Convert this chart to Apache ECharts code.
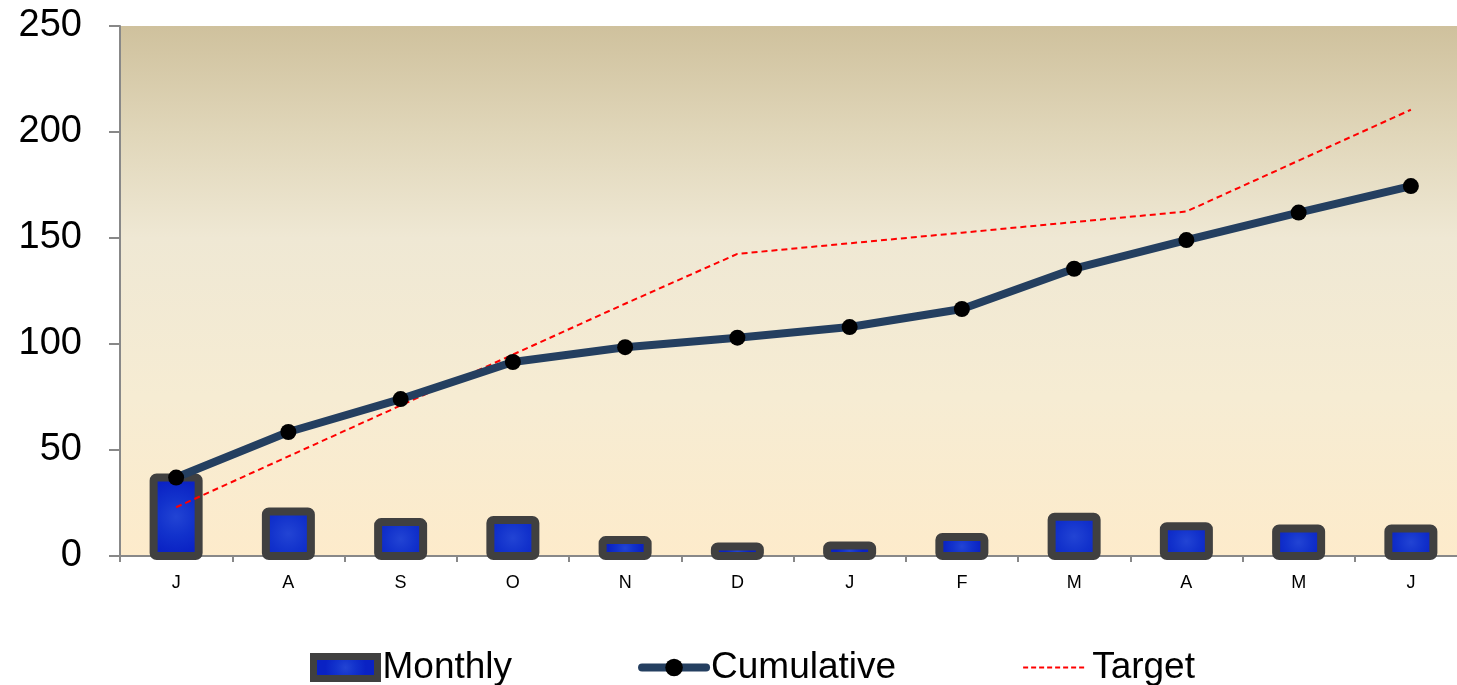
<!DOCTYPE html>
<html>
<head>
<meta charset="utf-8">
<style>
  html, body { margin: 0; padding: 0; background: #ffffff; overflow: hidden; }
  #chart { width: 1467px; height: 685px; }
</style>
<script src="https://cdn.jsdelivr.net/npm/echarts@6/dist/echarts.min.js"></script>
</head>
<body>
<div id="chart"></div>
<script>
// Month labels, July through June
const months = ['J', 'A', 'S', 'O', 'N', 'D', 'J', 'F', 'M', 'A', 'M', 'J'];
// Monthly amount
const monthly = [37, 21, 16, 17, 7.5, 4.5, 5, 9, 18.5, 14, 13, 13];
// Running total
const cumulative = [37, 58.5, 74, 91.5, 98.5, 103, 108, 116.5, 135.5, 149, 162, 174.5];
// Target path
const target = [23, 47, 71, 95, 119, 142.5, 147.5, 152.5, 157.5, 162.5, 186.5, 210.5];
// Value axis ticks
const yTicks = { min: 0, max: 250, step: 50 };

const chart = echarts.init(document.getElementById('chart'), null, { renderer: 'canvas' });

const font = 'Liberation Sans, Arial, sans-serif';
const barBorder = '#404040';
function barFill() {
  return new echarts.graphic.RadialGradient(0.5, 0.5, 0.7, [
    { offset: 0, color: '#2244d4' },
    { offset: 0.5, color: '#1232cc' },
    { offset: 1, color: '#0a22c4' }
  ]);
}

// Bars with a thick framed outline that keeps its full width even on short bars
function renderBar(params, api) {
  const idx = api.value(0);
  const top = api.coord([idx, api.value(1)]);
  const base = api.coord([idx, 0]);
  const w = 45;
  return {
    type: 'rect',
    shape: { x: top[0] - w / 2, y: top[1], width: w, height: base[1] - top[1], r: 3 },
    style: { fill: barFill(), stroke: barBorder, lineWidth: 8 }
  };
}

chart.setOption({
  animation: false,
  textStyle: { fontFamily: font },
  grid: {
    left: 120, top: 26, width: 1347, height: 530,
    show: true,
    borderWidth: 0,
    backgroundColor: {
      type: 'linear', x: 0, y: 0, x2: 0, y2: 1,
      colorStops: [
        { offset: 0, color: '#cfc19d' },
        { offset: 0.2, color: '#e0d6b9' },
        { offset: 0.4, color: '#efe8d4' },
        { offset: 0.7, color: '#f6ecd3' },
        { offset: 1, color: '#fdebcb' }
      ]
    }
  },
  legend: {
    left: 305, top: 644,
    itemWidth: 64, itemHeight: 22, itemGap: 126,
    textStyle: { fontSize: 37, color: '#000', fontFamily: font },
    data: [
      { name: 'Monthly', icon: 'rect', itemStyle: { color: barFill(), borderColor: barBorder, borderWidth: 7 } },
      { name: 'Cumulative', lineStyle: { color: '#243f60', width: 8, cap: 'round' }, itemStyle: { color: '#000' } },
      { name: 'Target', lineStyle: { color: '#ff0000', width: 2, type: [5, 3] }, itemStyle: { opacity: 0 } }
    ]
  },
  xAxis: {
    type: 'category',
    data: months,
    boundaryGap: true,
    axisLine: { show: true, lineStyle: { color: '#888888', width: 2 } },
    axisTick: { show: true, length: 6, lineStyle: { color: '#888888', width: 2 } },
    axisLabel: { fontSize: 18, color: '#000', margin: 18, fontFamily: font },
    splitLine: { show: false }
  },
  yAxis: {
    type: 'value',
    min: yTicks.min, max: yTicks.max, interval: yTicks.step,
    axisLine: { show: true, lineStyle: { color: '#888888', width: 2 } },
    axisTick: { show: true, length: 11, lineStyle: { color: '#888888', width: 2 } },
    axisLabel: { fontSize: 38, color: '#000', margin: 38, fontFamily: font },
    splitLine: { show: false }
  },
  series: [
    {
      name: 'Monthly',
      type: 'custom',
      renderItem: renderBar,
      encode: { x: 0, y: 1 },
      data: monthly.map((v, i) => [i, v]),
      itemStyle: { color: '#1232cc', borderColor: barBorder },
      z: 2
    },
    {
      name: 'Cumulative',
      type: 'line',
      data: cumulative,
      symbol: 'circle',
      symbolSize: 16,
      lineStyle: { color: '#243f60', width: 8, cap: 'round', join: 'round' },
      itemStyle: { color: '#000000', borderWidth: 0 },
      z: 4
    },
    {
      name: 'Target',
      type: 'line',
      data: target,
      symbol: 'none',
      lineStyle: { color: '#ff0000', width: 2, type: [6, 4] },
      itemStyle: { color: '#ff0000' },
      z: 3
    }
  ]
});
</script>
</body>
</html>
